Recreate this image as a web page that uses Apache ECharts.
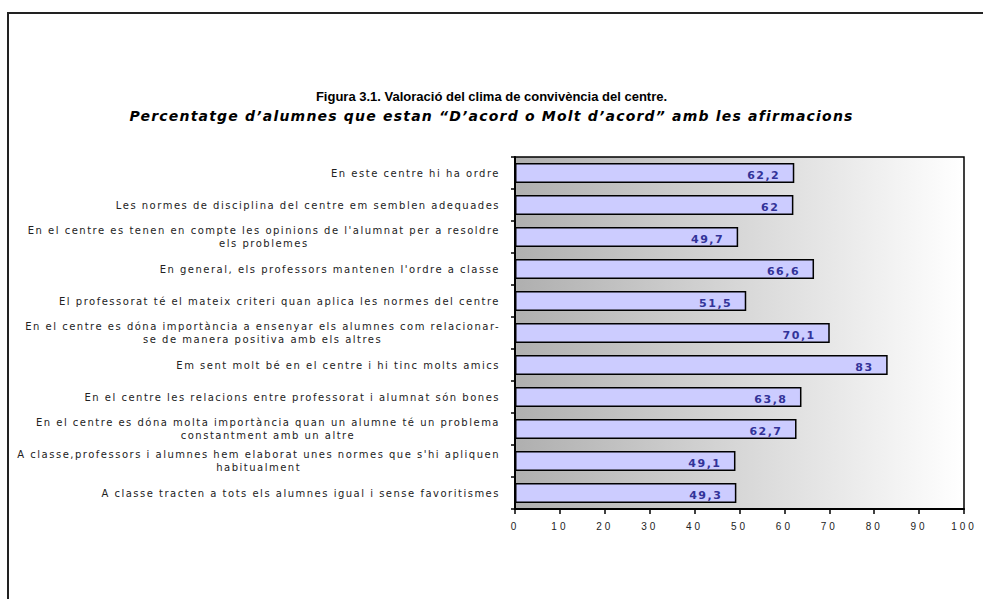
<!DOCTYPE html>
<html>
<head>
<meta charset="utf-8">
<script src="https://cdn.jsdelivr.net/npm/echarts@6/dist/echarts.min.js"></script>
<style>
  html, body { margin: 0; padding: 0; background: #fff; }
  #chart { width: 983px; height: 599px; }
  /* wide tracking, in the style of the original workbook fonts */
  #chart text[style*="DejaVu"][style*="10px"] { letter-spacing: 1.5px; }
  #chart text[style*="oblique"], #chart text[style*="italic"] { letter-spacing: 1.2px; }
  #chart text[style*="Liberation"][style*="10px"] { letter-spacing: 3px; }
  #chart text[style*="DejaVu"][style*="11px"] { letter-spacing: 1.5px; }
</style>
</head>
<body>
<div id="chart"></div>
<script>
// Survey statements (top to bottom) and share of pupils who agree, in %
const categories = [
  'En este centre hi ha ordre',
  'Les normes de disciplina del centre em semblen adequades',
  "En el centre es tenen en compte les opinions de l'alumnat per a resoldre\nels problemes",
  "En general, els professors mantenen l'ordre a classe",
  'El professorat té el mateix criteri quan aplica les normes del centre',
  'En el centre es dóna importància a ensenyar els alumnes com relacionar-\nse de manera positiva amb els altres',
  'Em sent molt bé en el centre i hi tinc molts amics',
  'En el centre les relacions entre professorat i alumnat són bones',
  'En el centre es dóna molta importància quan un alumne té un problema\nconstantment amb un altre',
  "A classe,professors i alumnes hem elaborat unes normes que s'hi apliquen\nhabitualment",
  'A classe tracten a tots els alumnes igual i sense favoritismes'
];
const agreeValues = [62.2, 62, 49.7, 66.6, 51.5, 70.1, 83, 63.8, 62.7, 49.1, 49.3];
const xTicks = { min: 0, max: 100, interval: 10 };

const titleLine1 = 'Figura 3.1. Valoració del clima de convivència del centre.';
const titleLine2 = 'Percentatge d’alumnes que estan “D’acord o Molt d’acord” amb les afirmacions';

const CAT_FONT = 'DejaVu Sans';
const CAT_SIZE = 10;
const CAT_SPACING = 1.5;

// width of a category label line, tracking included
const measureCtx = document.createElement('canvas').getContext('2d');
measureCtx.font = CAT_SIZE + 'px "' + CAT_FONT + '"';
function lineWidth(s) {
  return measureCtx.measureText(s).width + s.length * CAT_SPACING;
}

// two-line labels: second line centred under the first
const catRich = {};
categories.forEach(function (c, i) {
  if (c.indexOf('\n') >= 0) {
    const first = c.split('\n')[0];
    catRich['r' + i] = {
      width: lineWidth(first),
      align: 'center',
      fontSize: CAT_SIZE,
      fontFamily: CAT_FONT,
      color: '#222',
      lineHeight: 13
    };
  }
});

function decimalComma(v) {
  return String(v).split('.').join(',');
}

const chart = echarts.init(document.getElementById('chart'), null, { renderer: 'svg' });

chart.setOption({
  animation: false,
  backgroundColor: '#fff',
  graphic: [{
    type: 'rect',
    silent: true,
    shape: { x: 8, y: 13, width: 1200, height: 1200 },
    style: { fill: 'none', stroke: '#222', lineWidth: 2 }
  }],
  title: {
    left: 'center',
    top: 82,
    text: '{a|' + titleLine1 + '}\n{b|' + titleLine2 + '}',
    textStyle: {
      rich: {
        a: { fontFamily: 'Liberation Sans', fontWeight: 'bold', fontSize: 13, color: '#000', lineHeight: 19, align: 'center' },
        b: { fontFamily: 'DejaVu Sans', fontWeight: 'bold', fontStyle: 'oblique', fontSize: 14, color: '#000', lineHeight: 19, align: 'center' }
      }
    }
  },
  grid: {
    left: 515, right: 19, top: 157, bottom: 90,
    show: true,
    backgroundColor: new echarts.graphic.LinearGradient(0, 0, 1, 0, [
      { offset: 0, color: '#afafaf' },
      { offset: 1, color: '#ffffff' }
    ]),
    borderColor: '#000',
    borderWidth: 1.5
  },
  xAxis: {
    type: 'value',
    min: xTicks.min,
    max: xTicks.max,
    interval: xTicks.interval,
    splitLine: { show: false },
    axisLine: { show: true, lineStyle: { color: '#000', width: 2 } },
    axisTick: { show: true, length: 5, lineStyle: { color: '#000', width: 1.5 } },
    axisLabel: {
      margin: 12,
      color: '#222',
      fontSize: 10,
      fontFamily: 'Liberation Sans'
    }
  },
  yAxis: {
    type: 'category',
    inverse: true,
    data: categories,
    axisLine: { show: true, lineStyle: { color: '#000', width: 2 } },
    axisTick: { show: true, length: 4, lineStyle: { color: '#000', width: 1.5 } },
    axisLabel: {
      margin: 15,
      color: '#222',
      fontSize: CAT_SIZE,
      fontFamily: CAT_FONT,
      lineHeight: 13,
      align: 'right',
      rich: catRich,
      formatter: function (value, idx) {
        if (value.indexOf('\n') < 0) return value;
        const parts = value.split('\n');
        return '{r' + idx + '|' + parts[0] + '}\n{r' + idx + '|' + parts[1] + '}';
      }
    }
  },
  series: [{
    type: 'bar',
    data: agreeValues,
    barWidth: '62%',
    itemStyle: { color: '#ccccff', borderColor: '#000', borderWidth: 1.5 },
    label: {
      show: true,
      position: 'insideRight',
      distance: 14,
      offset: [0, 2],
      color: '#333399',
      fontFamily: 'DejaVu Sans',
      fontWeight: 'bold',
      fontSize: 11,
      formatter: function (p) { return decimalComma(p.value); }
    }
  }]
});
</script>
</body>
</html>
